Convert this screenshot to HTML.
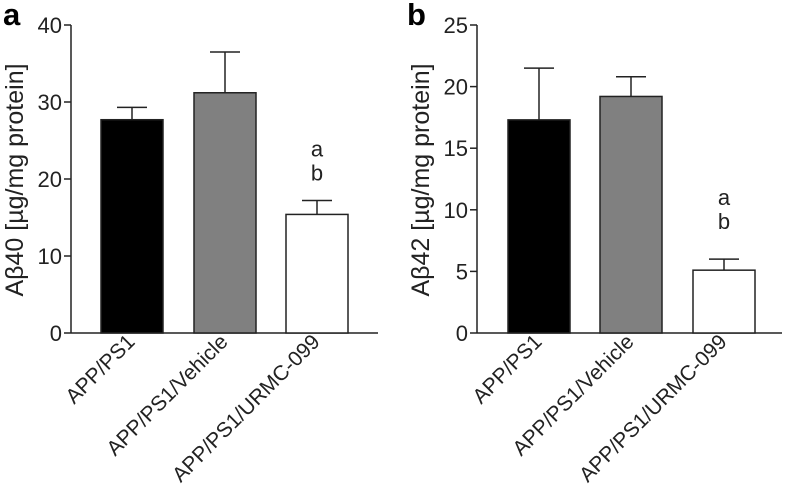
<!DOCTYPE html>
<html><head><meta charset="utf-8"><style>
body{margin:0;background:#fff}
svg{display:block;font-family:"Liberation Sans",Arial,sans-serif}
</style></head><body>
<svg id="chart" width="787" height="493" viewBox="0 0 787 493"></svg>
<script>
const categories = ["APP/PS1","APP/PS1/Vehicle","APP/PS1/URMC-099"];
const valuesA = [27.7, 31.2, 15.4];
const errorsA = [29.3, 36.5, 17.2];
const valuesB = [17.3, 19.2, 5.1];
const errorsB = [21.5, 20.8, 6.0];
const ticksA = [0,10,20,30,40];
const ticksB = [0,5,10,15,20,25];
const fills = ["#000","#808080","#fff"];
const NS="http://www.w3.org/2000/svg";
const svg=document.getElementById('chart');
function el(t,a,p){const e=document.createElementNS(NS,t);for(const k in a)e.setAttribute(k,a[k]);(p||svg).appendChild(e);return e;}
function panel(cfg){
  const g=el('g',{});
  
  
  const y=v=>cfg.y0-(v/cfg.max)*(cfg.y0-cfg.yTop);
  const letter=el('text',{x:cfg.letterX,y:25,'font-size':31,'font-weight':'bold'},g);letter.textContent=cfg.letter;
  
  
  const ya=el('line',{x1:cfg.ax,y1:cfg.yTop,x2:cfg.ax,y2:cfg.y0,stroke:'#222','stroke-width':1.5},g);
  
  
  const xa=el('line',{x1:cfg.ax,y1:cfg.y0,x2:cfg.axEnd,y2:cfg.y0,stroke:'#222','stroke-width':1.5},g);
  
  
  cfg.ticks.forEach(t=>{
    el('line',{x1:cfg.ax-7,y1:y(t),x2:cfg.ax,y2:y(t),stroke:'#222','stroke-width':1.5},g);
    const tx=el('text',{x:cfg.ax-9,y:y(t)+8,'font-size':22,'text-anchor':'end',fill:'#222'},g);
    tx.textContent=t;
    
    
  });
  const yt=el('text',{transform:`translate(${cfg.titleX},${(cfg.yTop+cfg.y0)/2+1}) rotate(-90)`,'font-size':25,'text-anchor':'middle',fill:'#222'},g);
  yt.textContent=cfg.title;
  
  
  categories.forEach((c,i)=>{
    const x=cfg.barX[i], w=cfg.barW;
    const cx=x+w/2;
    const el1=el('line',{x1:cx,y1:y(cfg.vals[i]),x2:cx,y2:y(cfg.errs[i]),stroke:'#222','stroke-width':1.5},g);
    
    
    el('line',{x1:cx-15,y1:y(cfg.errs[i]),x2:cx+15,y2:y(cfg.errs[i]),stroke:'#222','stroke-width':1.5},g);
    const r=el('rect',{x:x,y:y(cfg.vals[i]),width:w,height:cfg.y0-y(cfg.vals[i]),fill:fills[i],stroke:'#222','stroke-width':1.5},g);
    
    
    const lb=el('text',{transform:`translate(${cx+4},${cfg.y0+10}) rotate(-45)`,'font-size':21,'text-anchor':'end',fill:'#222'},g);
    lb.textContent=c;
    
    
  });
  const cx3=cfg.barX[2]+cfg.barW/2;
  ['a','b'].forEach((s,k)=>{
    const t=el('text',{x:cx3,y:y(cfg.errs[2])-cfg.sigOff+k*24,'font-size':22,'text-anchor':'middle',fill:'#222'},g);
    t.textContent=s;
    
    
  });
}
panel({name:'panel-a',letter:'a',letterX:3,ax:71,axEnd:378,y0:333,yTop:25,max:40,ticks:ticksA,vals:valuesA,errs:errorsA,barX:[101,194,286],barW:62,title:'Aβ40 [µg/mg protein]',titleX:23,sigOff:44});
panel({name:'panel-b',letter:'b',letterX:407,ax:477,axEnd:782,y0:333,yTop:25,max:25,ticks:ticksB,vals:valuesB,errs:errorsB,barX:[508,600,693],barW:62,title:'Aβ42 [µg/mg protein]',titleX:429,sigOff:54});
</script>
</body></html>
